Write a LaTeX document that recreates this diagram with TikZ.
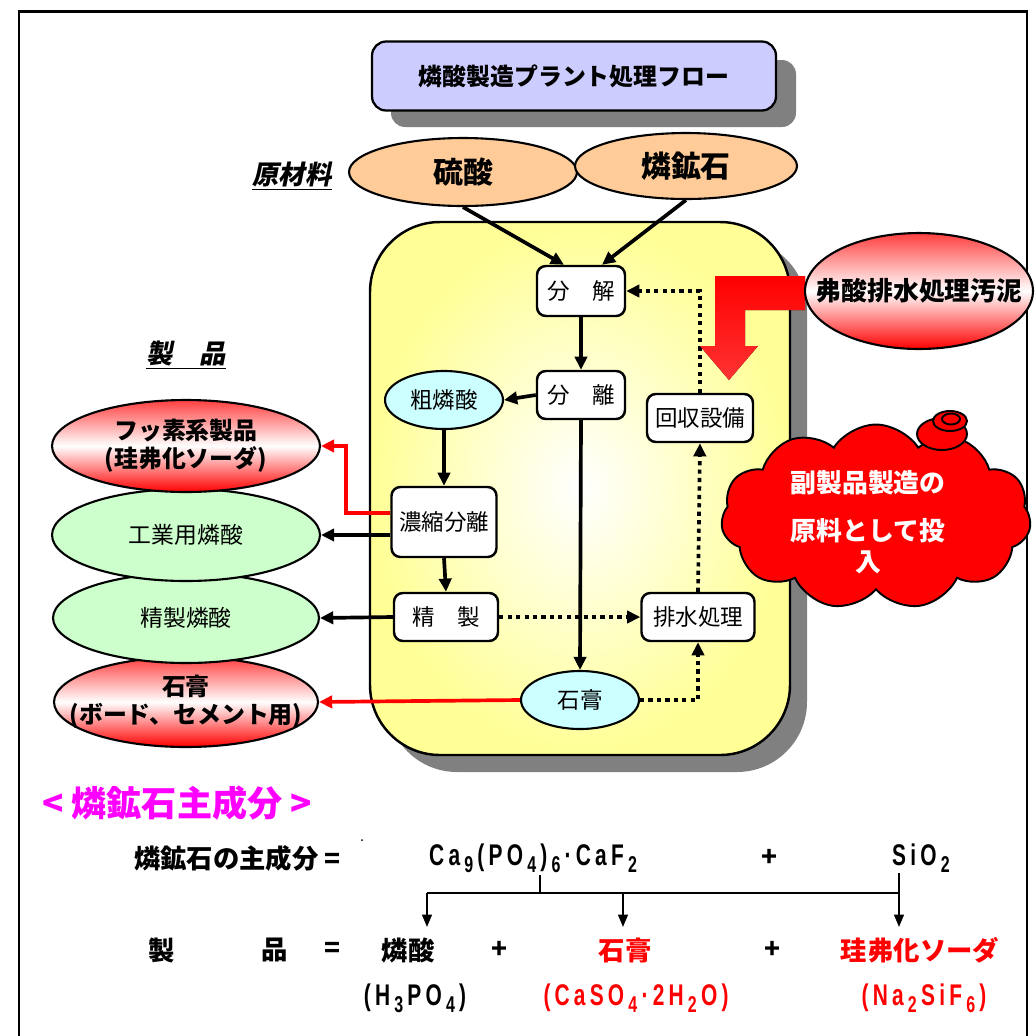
\documentclass[tikz,border=0pt]{standalone}
\usepackage{fontspec}
\setmainfont{Noto Sans CJK JP}
\newfontfamily\jpsl[FakeSlant=0.2]{Noto Sans CJK JP}
\newfontfamily\fml[FakeStretch=0.7]{Liberation Sans}
\usetikzlibrary{shapes.geometric,shapes.symbols,arrows.meta,calc}
\newcommand{\fsub}[1]{\raisebox{-0.45ex}{\fontsize{13}{13}\selectfont #1}}
\newcommand{\fk}{\kern2.4pt}
\definecolor{lav}{RGB}{204,204,255}
\definecolor{peach}{RGB}{255,204,153}
\definecolor{lcyan}{RGB}{204,255,255}
\definecolor{lgreen}{RGB}{204,255,204}
\definecolor{pyel}{RGB}{255,255,150}
\definecolor{shad}{RGB}{128,128,128}
\definecolor{mag}{RGB}{255,0,255}
\definecolor{myred}{RGB}{255,0,0}
\begin{document}
\begin{tikzpicture}[x=0.02cm,y=-0.02cm,
  procbox/.style={draw, line width=1.4pt, fill=white, rounded corners=5pt, inner sep=0pt, font=\fontsize{12.8}{14}\selectfont},
  oval/.style={ellipse, draw, line width=1.2pt, inner sep=0pt},
  redgrad/.style={top color=myred!75, bottom color=myred, middle color=white},
  arr/.style={line width=2.1pt, -{Triangle[length=7.5pt,width=7pt]}},
  dotarr/.style={line width=2.1pt, dash pattern=on 2.4pt off 2.4pt, -{Triangle[length=7.5pt,width=7pt]}},
  redarr/.style={arr, draw=myred},
  smallarr/.style={line width=1.1pt, -{Triangle[length=7pt,width=5.5pt]}},
  jpb/.style={font=\bfseries\fontsize{15}{17}\selectfont},
  fmlf/.style={font=\fml\bfseries\fontsize{17}{19}\selectfont},
  lbl/.style={font=\jpsl\bfseries\fontsize{15}{17}\selectfont}
]
\useasboundingbox (0,0) rectangle (1036,1036);
% frame
\draw[line width=1.7pt] (19,1036) -- (19,11) -- (1027,11) -- (1027,1036);

% title
\fill[shad, rounded corners=8pt] (391,60) rectangle (796,127);
\node[draw, line width=1.3pt, fill=lav, rounded corners=8pt, minimum width=8.08cm, minimum height=1.38cm, inner sep=0pt,
  font=\bfseries\fontsize{13.6}{15}\selectfont] (title) at (574,76) {燐酸製造プラント処理フロー};

% raw materials
\node[lbl] (genzai) at (292,176) {\underline{原材料}};
\node[oval, fill=peach, minimum width=4.56cm, minimum height=1.36cm, font=\bfseries\fontsize{17}{19}\selectfont] (ryusan) at (463,172) {硫酸};
\node[oval, fill=peach, minimum width=4.44cm, minimum height=1.32cm, font=\bfseries\fontsize{17}{19}\selectfont] (rinkou) at (686,166) {燐鉱石};

% plant box
\fill[shad, rounded corners=1.4cm] (387,239) rectangle (807,772);
\draw[line width=1.4pt, rounded corners=1.4cm, inner color=white, outer color=pyel] (370,222) rectangle (790,755);

% process nodes
\node[procbox, minimum width=1.76cm, minimum height=1.0cm] (bunkai) at (581,291) {分　解};
\node[procbox, minimum width=1.76cm, minimum height=0.96cm] (bunri) at (581,395) {分　離};
\node[oval, fill=lcyan, minimum width=2.36cm, minimum height=1.16cm, font=\fontsize{12.8}{14}\selectfont] (sorin) at (444,400) {粗燐酸};
\node[procbox, minimum width=2.1cm, minimum height=1.4cm] (noushuku) at (444,522) {濃縮分離};
\node[procbox, minimum width=2.08cm, minimum height=0.96cm] (seisei) at (446,617) {精　製};
\node[oval, fill=lcyan, minimum width=2.36cm, minimum height=1.16cm, font=\fontsize{12.8}{14}\selectfont] (sekko) at (580,700) {石膏};
\node[procbox, minimum width=2.12cm, minimum height=0.96cm] (kaishu) at (700,418) {回収設備};
\node[procbox, minimum width=2.26cm, minimum height=0.96cm] (haisui) at (698,617) {排水処理};

% raw material arrows
\draw[arr] (ryusan.south) -- ($(bunkai.north)+(-17,0)$);
\draw[arr] (rinkou.south) -- ($(bunkai.north)+(21,0)$);

% products
\node[oval, redgrad, minimum width=5.28cm, minimum height=1.8cm] (sekkoP) at (186,702) {};
\node[font=\bfseries\fontsize{13.6}{16}\selectfont, align=center] (sekkoPt) at (186,702) {石膏\\(ボード、セメント用)};
\node[oval, fill=lgreen, minimum width=5.32cm, minimum height=1.8cm, font=\fontsize{13}{15}\selectfont] (seiseirin) at (186,618) {精製燐酸};
\node[oval, fill=lgreen, minimum width=5.36cm, minimum height=1.84cm, font=\fontsize{13}{15}\selectfont] (kogyo) at (186,535) {工業用燐酸};
\node[oval, redgrad, minimum width=5.36cm, minimum height=1.84cm] (fusso) at (186,446) {};
\node[font=\bfseries\fontsize{13.6}{16}\selectfont, align=center] (fussot) at (186,446) {フッ素系製品\\(珪弗化ソーダ)};
\node[lbl] (seihin) at (186,355) {\underline{製　品}};

% process arrows
\draw[arr] (bunkai.south) -- (bunri.north);
\draw[arr] (bunri.west) -- (sorin.east);
\draw[arr] (bunri.south) -- (sekko.north);
\draw[arr] (sorin.south) -- (noushuku.north);
\draw[arr] (noushuku.south) -- (seisei.north);
\draw[arr] (noushuku.west |- kogyo.east) -- (kogyo.east);
\draw[arr] (seisei.west) -- (seiseirin.east);
\draw[redarr] ($(noushuku.west)+(0,-9)$) -- ++(-44,0) |- (fusso.east);
\draw[redarr] (sekko.west) -- (sekkoP.east);

% dotted arrows
\draw[dotarr] (seisei.east) -- (haisui.west);
\draw[dotarr] (sekko.east) -| (haisui.south);
\draw[dotarr] (haisui.north) -- (kaishu.south);
\draw[dotarr] (kaishu.north) |- (bunkai.east);

% red L arrow
\fill[top color=myred, bottom color=myred!80!white]
  (805,276) -- (715,276) -- (715,346) -- (700,346) -- (729,380) -- (758,346) -- (745,346) -- (745,310) -- (805,310) -- cycle;
\node[oval, redgrad, minimum width=4.56cm, minimum height=2.32cm] (osei) at (919,291) {};
\node[font=\bfseries\fontsize{14.7}{16}\selectfont] (oseit) at (919,291) {弗酸排水処理汚泥};

% cloud
\node[cloud, cloud puffs=11, cloud puff arc=115, aspect=1.65, draw, line width=1.1pt, fill=myred,
  minimum width=6.2cm, minimum height=3.7cm] (cloud) at (876,517) {};
\draw[line width=1.1pt, fill=myred] (942,434) ellipse [x radius=0.5cm, y radius=0.32cm];
\draw[line width=1.1pt, fill=myred] (950,421) ellipse [x radius=0.34cm, y radius=0.2cm];
\draw[line width=1.1pt, fill=myred] (951,419) ellipse [x radius=0.18cm, y radius=0.11cm];
\node[text=white, align=center, font=\bfseries\fontsize{14.7}{17.6}\selectfont] (cloudtxt) at (868,522) {副製品製造の\\[10pt]原料として投\\入};

% composition section
\node[anchor=west, text=mag, font=\bfseries\fontsize{20}{22}\selectfont] (heading) at (36,803) {< 燐鉱石主成分 >};
\fill (362,840) circle[radius=0.02cm];
\node[anchor=west, jpb] (lhs) at (128,858) {燐鉱石の主成分 =};
\node[anchor=west, fmlf] (ca) at (423,858) {C\fk a\fk\fsub{9}\fk(\fk P\fk O\fk\fsub{4}\fk)\fk\fsub{6}\fk·\fk C\fk a\fk F\fk\fsub{2}};
\node[jpb] (plus0) at (770,858) {+};
\node[anchor=west, fmlf] (sio) at (886,858) {S\fk i\fk O\fk\fsub{2}};

\coordinate (caB) at (540,875);
\coordinate (sioB) at (899,873);
\coordinate (bL) at (427,893);
\coordinate (bM) at (623,893);
\coordinate (bR) at (899,893);
\coordinate (tL) at (427,927);
\coordinate (tM) at (623,927);
\coordinate (tR) at (899,927);
\draw[line width=1.4pt] (bL) -- (bR);
\draw[line width=1.1pt] (caB) -- (caB |- bL);
\draw[line width=1.1pt] (sioB) -- (bR);
\draw[smallarr] (bL) -- (tL);
\draw[smallarr] (bM) -- (tM);
\draw[smallarr] (bR) -- (tR);

\node[jpb] (sei) at (162,950) {製};
\node[jpb] (hin) at (275,950) {品};
\node[jpb] (eq) at (333,950) {=};
\node[jpb] (rinsan) at (408,950) {燐酸};
\node[jpb] (plus1) at (500,950) {+};
\node[jpb, text=myred] (sekkoR) at (625,950) {石膏};
\node[jpb] (plus2) at (773,950) {+};
\node[jpb, text=myred] (soda) at (920,950) {珪弗化ソーダ};

\node[fmlf] (f1) at (415,998) {(\fk H\fk\fsub{3}\fk P\fk O\fk\fsub{4}\fk)};
\node[fmlf, text=myred] (f2) at (636,998) {(\fk C\fk a\fk S\fk O\fk\fsub{4}\fk·\fk 2\fk H\fk\fsub{2}\fk O\fk)};
\node[fmlf, text=myred] (f3) at (924,998) {(\fk N\fk a\fk\fsub{2}\fk S\fk i\fk F\fk\fsub{6}\fk)};
\end{tikzpicture}
\end{document}
